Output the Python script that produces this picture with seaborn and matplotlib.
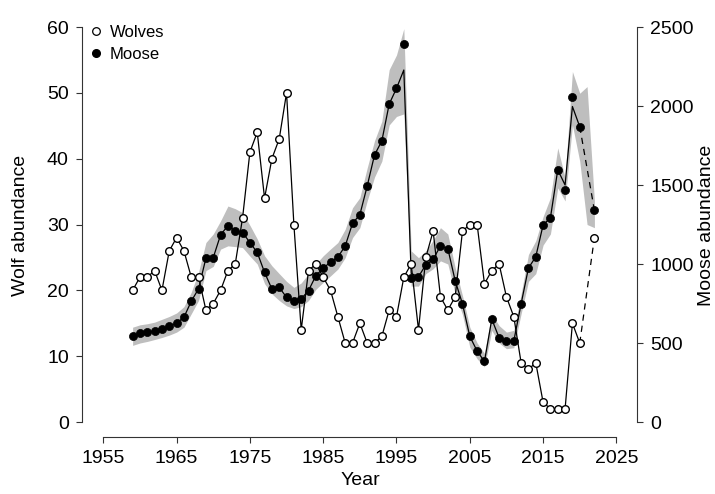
import numpy as np
import pandas as pd
import matplotlib
matplotlib.use("Agg")
from matplotlib import pyplot as plt
from matplotlib.lines import Line2D
import seaborn as sns

# Isle Royale wolves and moose, 1959-2022 (no survey in 2021)
years = list(range(1959, 2023))

wolves = [20, 22, 22, 23, 20, 26, 28, 26, 22, 22,
          17, 18, 20, 23, 24, 31, 41, 44, 34, 40,
          43, 50, 30, 14, 23, 24, 22, 20, 16, 12,
          12, 15, 12, 12, 13, 17, 16, 22, 24, 14,
          25, 29, 19, 17, 19, 29, 30, 30, 21, 23,
          24, 19, 16, 9, 8, 9, 3, 2, 2, 2,
          15, 12, np.nan, 28]

# moose counts (points)
moose = [542, 562, 569, 575, 590, 607, 626, 663, 764, 844,
         1037, 1041, 1184, 1243, 1210, 1199, 1136, 1073, 947, 842,
         852, 789, 769, 779, 832, 926, 974, 1012, 1044, 1114,
         1257, 1312, 1493, 1690, 1779, 2012, 2112, 2390, 911, 920,
         995, 1029, 1115, 1098, 895, 748, 542, 449, 383, 651,
         533, 512, 512, 748, 974, 1046, 1247, 1293, 1596, 1470,
         2054, 1869, np.nan, 1340]

# moose estimate (line)
moose_fit = [542, 562, 569, 575, 590, 607, 626, 663, 764, 844,
             1037, 1041, 1184, 1243, 1210, 1199, 1136, 1073, 947, 842,
             852, 789, 769, 779, 832, 926, 974, 1012, 1044, 1114,
             1257, 1312, 1493, 1690, 1779, 2012, 2112, 2228, 940, 920,
             995, 1029, 1115, 1098, 895, 748, 542, 449, 383, 651,
             533, 512, 512, 748, 974, 1046, 1247, 1293, 1596, 1500,
             1997, 1869, np.nan, 1340]

moose_lo = [485, 500, 510, 522, 535, 550, 569, 600, 685, 770,
            958, 985, 1094, 1115, 1110, 1104, 1050, 1000, 876, 811,
            769, 735, 718, 730, 769, 840, 884, 925, 968, 1040,
            1167, 1230, 1399, 1550, 1651, 1880, 1934, 1950, 860, 860,
            939, 970, 1020, 1000, 811, 680, 474, 400, 348, 580,
            500, 464, 470, 685, 890, 939, 1120, 1190, 1482, 1399,
            1880, 1650, 1250, 1230]

moose_hi = [600, 615, 622, 632, 650, 668, 690, 730, 821, 950,
            1136, 1190, 1273, 1367, 1350, 1325, 1245, 1159, 1052, 989,
            939, 890, 852, 880, 939, 1000, 1052, 1095, 1136, 1220,
            1356, 1420, 1608, 1780, 1903, 2230, 2323, 2490, 1083, 1040,
            1083, 1150, 1230, 1190, 978, 800, 600, 500, 434, 685,
            610, 569, 580, 811, 1060, 1147, 1300, 1420, 1735, 1546,
            2218, 2081, 2123, 1400]

df = pd.DataFrame({"year": years, "wolves": wolves, "moose": moose,
                   "moose_fit": moose_fit, "lo": moose_lo, "hi": moose_hi})
solid = df[df["year"] <= 2020]
gap = df[df["year"].isin([2020, 2022])]

sns.set_style("ticks")
plt.rcParams["font.family"] = ["Liberation Sans", "DejaVu Sans"]
plt.rcParams["text.color"] = "black"
plt.rcParams["axes.labelcolor"] = "black"
plt.rcParams["xtick.labelcolor"] = "black"
plt.rcParams["ytick.labelcolor"] = "black"

W, H = 715, 494
fig = plt.figure(figsize=(W / 100, H / 100), dpi=100)
ax = fig.add_axes([82 / W, (H - 437) / H, (637 - 82) / W, (437 - 20) / H])
ax2 = ax.twinx()

px_yr = 7.33
ax.set_xlim(1955 - (103.3 - 82) / px_yr, 1955 + (637 - 103.3) / px_yr)
py = 6.583
ylo, yhi = (422 - 437) / py, (422 - 20) / py
ax.set_ylim(ylo, yhi)
ax2.set_ylim(ylo * 2500 / 60, yhi * 2500 / 60)

# moose band, line, points
ax2.fill_between(df["year"], df["lo"], df["hi"], color="#bebebe", lw=0, zorder=1)
sns.lineplot(data=solid, x="year", y="moose_fit", ax=ax2, color="black",
             lw=0.9, estimator=None, sort=False, zorder=2)
sns.lineplot(data=gap, x="year", y="moose", ax=ax2, color="black",
             lw=0.9, estimator=None, sort=False, zorder=2)
ax2.lines[-1].set_linestyle((0, (5, 4)))
sns.scatterplot(data=df, x="year", y="moose", ax=ax2, color="black",
                s=34, edgecolor="black", linewidth=0.5, zorder=3)

# wolves
sns.lineplot(data=solid, x="year", y="wolves", ax=ax, color="black",
             lw=0.9, estimator=None, sort=False, zorder=2)
sns.lineplot(data=gap, x="year", y="wolves", ax=ax, color="black",
             lw=0.9, estimator=None, sort=False, zorder=2)
ax.lines[-1].set_linestyle((0, (5, 4)))
sns.scatterplot(data=df, x="year", y="wolves", ax=ax, color="white",
                s=30, edgecolor="black", linewidth=1.0, zorder=3)

ax.set_zorder(ax2.get_zorder() + 1)
ax.patch.set_visible(False)

# axes styling (R-like detached axes)
for a in (ax, ax2):
    a.spines["top"].set_visible(False)
ax.spines["right"].set_visible(False)
ax2.spines["left"].set_visible(False)
ax2.spines["bottom"].set_visible(False)
ax.spines["left"].set_bounds(0, 60)
ax.spines["bottom"].set_bounds(1955, 2025)
ax2.spines["right"].set_bounds(0, 2500)
for s in (ax.spines["left"], ax.spines["bottom"], ax2.spines["right"]):
    s.set_linewidth(0.8)
    s.set_color("#333333")

ax.set_xticks(range(1955, 2026, 10))
ax.set_yticks(range(0, 61, 10))
ax2.set_yticks(range(0, 2501, 500))
ax.tick_params(axis="both", length=4.5, width=0.8, labelsize=14, pad=4.5,
               color="#333333", labelcolor="black")
ax.tick_params(axis="y", pad=5)
ax2.tick_params(axis="y", length=4.5, width=0.8, labelsize=14, pad=5,
                color="#333333", labelcolor="black")

ax.set_xlabel("Year", fontsize=14)
ax.set_ylabel("Wolf abundance", fontsize=14)
ax2.set_ylabel("Moose abundance", fontsize=14)
ax.xaxis.set_label_coords((360 - 82) / 555, (437 - 472) / 417)
ax.yaxis.set_label_coords((29 - 82) / 555, (437 - 225) / 417)
ax2.yaxis.set_label_coords((698 - 82) / 555, (437 - 225) / 417)

handles = [Line2D([], [], marker="o", ls="", mfc="white", mec="black", ms=5.5, mew=0.9),
           Line2D([], [], marker="o", ls="", mfc="black", mec="black", ms=5.5)]
fig.legend(handles, ["Wolves", "Moose"], loc="upper left",
           bbox_to_anchor=(89 / W, 1 - 25 / H), frameon=False, fontsize=12,
           handlelength=0.8, handletextpad=0.45, labelspacing=0.4,
           borderaxespad=0, borderpad=0)

fig.savefig("out.png", dpi=100)
